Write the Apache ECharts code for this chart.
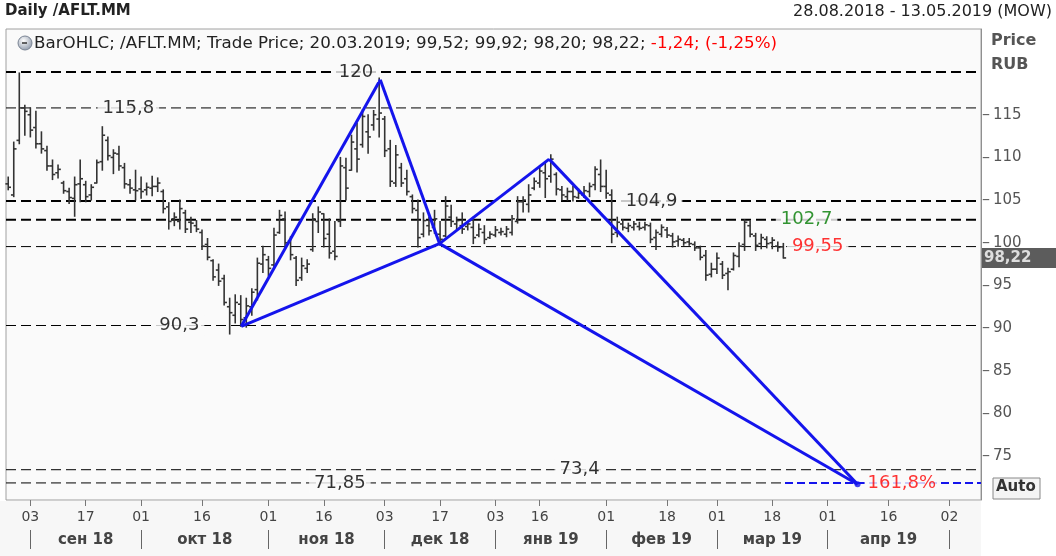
<!DOCTYPE html>
<html>
<head>
<meta charset="utf-8">
<script src="https://cdn.jsdelivr.net/npm/echarts@6/dist/echarts.min.js"></script>
<style>
  html, body { margin: 0; padding: 0; background: #fff; }
  #chart { width: 1056px; height: 556px; }
</style>
</head>
<body>
<div id="chart"></div>
<script>
// daily bars 28.08.2018 .. 20.03.2019, index = trading day
const opens = [
  106.9, 105.6, 112.0, 115.8, 115.0, 113.5, 111.6, 110.8, 109.0, 108.2,
  107.0, 106.0, 105.2, 106.9, 106.8, 105.6, 107.0, 109.5, 112.0, 110.0,
  110.4, 108.8, 106.8, 106.2, 106.3, 106.2, 106.4, 106.6, 106.0, 104.2,
  102.8, 102.5, 103.5, 102.4, 102.0, 101.2, 99.8, 97.9, 96.8, 95.8,
  92.5, 91.5, 92.8, 91.2, 92.5, 94.5, 97.5, 98.0, 97.4, 101.2,
  102.8, 100.2, 98.2, 95.9, 97.0, 99.2, 102.5, 103.4, 101.0, 99.0,
  102.5, 108.8, 108.5, 111.0, 111.5, 113.0, 113.8, 114.5, 114.5, 111.0,
  107.0, 108.8, 107.5, 105.4, 103.8, 101.0, 102.0, 101.8, 101.0, 100.8,
  103.0, 102.2, 102.0, 101.9, 101.8, 100.9, 101.2, 100.6, 100.9, 101.2,
  101.0, 101.2, 102.5, 104.8, 104.5, 106.4, 107.0, 108.2, 107.8, 108.0,
  106.2, 105.4, 106.0, 105.3, 105.6, 106.0, 106.8, 108.0, 106.6, 105.6,
  101.2, 102.2, 101.7, 101.8, 101.9, 101.8, 102.0, 100.6, 101.0, 101.5,
  100.8, 100.2, 100.3, 100.1, 99.8, 99.4, 98.5, 96.3, 96.9, 97.5,
  96.4, 96.9, 98.4, 99.8, 102.0, 100.8, 99.9, 100.4, 100.0, 99.6,
  99.52
];
const highs = [
  107.7, 111.8, 119.9, 116.1, 115.8, 115.4, 113.0, 111.3, 109.7, 109.1,
  107.2, 106.4, 107.7, 109.7, 107.2, 106.8, 109.7, 113.6, 112.4, 110.9,
  111.3, 109.3, 107.4, 108.5, 107.7, 107.0, 107.8, 107.6, 106.2, 104.7,
  103.5, 105.0, 103.8, 103.0, 102.6, 101.5, 100.5, 98.0, 97.5, 96.2,
  93.5, 93.9, 93.8, 93.5, 94.6, 98.2, 99.6, 98.4, 101.7, 103.8,
  103.6, 100.7, 98.4, 98.2, 98.0, 103.4, 104.2, 103.4, 102.8, 102.5,
  110.0, 109.9, 112.6, 114.0, 115.6, 115.0, 115.5, 119.3, 114.8, 112.0,
  111.4, 109.3, 108.5, 105.6, 105.0, 103.5, 103.0, 103.8, 102.5, 105.4,
  104.4, 103.0, 103.5, 102.5, 103.0, 102.2, 102.0, 101.3, 101.9, 101.7,
  101.9, 103.2, 105.4, 105.4, 106.8, 107.6, 108.9, 109.3, 110.3, 108.2,
  106.6, 106.4, 106.6, 106.3, 106.6, 107.0, 108.9, 109.7, 108.5, 106.2,
  103.0, 102.7, 102.3, 102.5, 102.4, 102.4, 102.3, 101.5, 102.1, 101.8,
  101.1, 100.8, 100.5, 100.5, 100.1, 99.6, 99.1, 97.6, 98.8, 97.8,
  97.0, 98.8, 100.0, 102.7, 102.5, 101.1, 101.0, 100.7, 100.6, 100.1,
  99.92
];
const lows = [
  106.2, 105.4, 111.6, 112.6, 112.4, 111.1, 110.5, 108.5, 107.4, 107.6,
  105.8, 104.6, 103.1, 104.8, 104.8, 105.0, 107.0, 108.5, 109.7, 108.1,
  108.5, 106.4, 105.8, 105.0, 105.2, 105.6, 105.5, 106.0, 103.5, 101.6,
  102.0, 101.6, 101.2, 101.2, 101.3, 99.2, 98.0, 95.6, 95.0, 92.7,
  89.3, 90.6, 90.2, 90.1, 91.5, 93.3, 96.5, 96.1, 97.2, 101.1,
  99.2, 98.0, 95.0, 95.6, 96.5, 99.0, 101.2, 99.5, 98.2, 98.0,
  101.9, 105.0, 108.5, 108.3, 111.2, 110.5, 113.2, 112.4, 110.1, 106.6,
  106.6, 106.6, 105.6, 103.5, 99.5, 100.7, 100.9, 101.1, 99.7, 100.7,
  101.9, 101.5, 101.1, 101.5, 99.9, 100.7, 99.9, 100.5, 100.7, 100.9,
  100.7, 100.9, 102.3, 103.6, 103.6, 106.2, 106.5, 105.3, 107.1, 105.6,
  105.0, 105.0, 104.9, 105.2, 105.3, 105.4, 106.2, 106.0, 105.2, 100.0,
  100.7, 101.5, 101.3, 101.5, 101.5, 101.5, 100.0, 99.2, 100.7, 100.6,
  99.5, 99.6, 99.7, 99.7, 99.1, 98.0, 95.6, 96.0, 96.4, 95.8,
  94.5, 96.8, 97.2, 99.1, 100.7, 99.1, 99.3, 99.4, 99.3, 99.0,
  98.20
];
const closes = [
  106.5, 111.0, 115.8, 115.4, 113.2, 111.6, 111.0, 109.0, 108.0, 108.6,
  106.1, 105.3, 106.8, 107.5, 105.4, 106.5, 109.4, 112.6, 110.2, 110.5,
  109.0, 106.9, 106.4, 106.1, 106.0, 106.5, 106.6, 107.0, 104.0, 102.5,
  103.0, 104.0, 101.6, 102.3, 101.6, 99.6, 98.3, 96.0, 95.5, 93.0,
  91.8, 93.0, 91.0, 92.6, 94.2, 97.6, 98.6, 97.0, 100.9, 103.2,
  100.0, 98.6, 95.6, 97.3, 97.5, 102.8, 103.6, 100.5, 98.8, 98.4,
  109.0, 106.4, 111.8, 109.8, 114.8, 112.4, 115.0, 115.2, 110.8, 107.2,
  110.3, 107.0, 106.0, 104.0, 100.6, 102.6, 101.4, 102.8, 100.4, 104.3,
  102.5, 102.6, 101.6, 102.2, 100.6, 101.6, 100.4, 101.0, 101.5, 101.3,
  101.6, 102.8, 104.8, 105.0, 105.6, 107.2, 108.4, 107.5, 109.8, 106.3,
  105.6, 106.0, 105.4, 105.8, 106.1, 106.6, 108.6, 106.6, 105.8, 101.0,
  102.4, 101.8, 102.0, 102.2, 101.7, 102.1, 100.4, 101.2, 101.8, 100.9,
  100.1, 100.4, 100.0, 99.9, 99.4, 98.3, 96.2, 96.9, 98.2, 96.2,
  96.6, 98.5, 99.6, 102.4, 101.0, 99.7, 100.6, 99.9, 100.3, 99.46,
  98.22
];

// x axis: trading-day index, up to 13.05.2019
const dayTickIdx = [4, 14, 24, 35, 47, 57, 68, 78, 88, 96, 108, 119, 128, 138, 148, 159, 170];
const dayTickLabels = ['03', '17', '01', '16', '01', '16', '03', '17', '03', '16', '01', '18', '01', '18', '01', '16', '02'];
const monthEdgeIdx = [4, 24, 47, 68, 88, 108, 128, 148, 170];
const monthMidIdx = [14, 35.5, 57.5, 78, 98, 118, 138, 159];
const monthLabels = ['сен 18', 'окт 18', 'ноя 18', 'дек 18', 'янв 19', 'фев 19', 'мар 19', 'апр 19'];
const priceTicks = [75, 80, 85, 90, 95, 100, 105, 110, 115];

// horizontal levels
const levelValues = [120, 115.8, 104.9, 102.7, 99.55, 90.3, 73.4, 71.85];
const levelLabels = ['120', '115,8', '104,9', '102,7', '99,55', '90,3', '73,4', '71,85'];

// XABCD pattern points (index, price)
const patternIdx = [42.1, 67.2, 77.9, 97.7, 153.4];
const patternValues = [90.2, 119.1, 99.9, 109.8, 71.7];
const fibValue = 71.85;
const fibLabel = '161,8%';
const lastPrice = 98.22;

const X_MIN = -0.4, X_MAX = 175.7;
const FONT = "'DejaVu Sans', Verdana, sans-serif";
const PLOT_BG = '#fafafa';
const BLUE = '#1414ec';

// label spot, colour, line width, dash end for each level
const levelStyle = [
  { at: 62.8, color: '#000', width: 2, end: X_MAX },
  { at: 21.7, color: '#000', width: 1, end: X_MAX },
  { at: 116.2, color: '#000', width: 2, end: X_MAX },
  { at: 144.2, color: '#007a00', width: 2, end: X_MAX },
  { at: 146.2, color: '#ff0000', width: 1, end: X_MAX },
  { at: 30.9, color: '#000', width: 1, end: X_MAX },
  { at: 103.2, color: '#000', width: 1, end: X_MAX },
  { at: 59.9, color: '#000', width: 1, end: 140.3 }
];

const segPairs = [[0, 1], [1, 2], [2, 3], [3, 4], [0, 2], [2, 4]];

const chart = echarts.init(document.getElementById('chart'));

const levelSeries = levelValues.map((v, i) => ({
  type: 'line',
  data: [[X_MIN, v], [levelStyle[i].end, v]],
  symbol: 'none',
  silent: true,
  z: 1,
  lineStyle: { color: '#000', width: levelStyle[i].width, type: [10, 5] }
}));

const levelLabelData = levelValues.map((v, i) => ({
  value: [levelStyle[i].at, v],
  label: { formatter: levelLabels[i], color: levelStyle[i].color }
}));

const barData = closes.map((c, i) => [i, opens[i], highs[i], lows[i], c]);

chart.setOption({
  backgroundColor: '#fff',
  animation: false,
  grid: {
    left: 6, right: 75, top: 29, bottom: 56,
    show: true, backgroundColor: PLOT_BG, borderColor: '#a0a0a0', borderWidth: 1
  },
  xAxis: [
    {
      type: 'value', min: X_MIN, max: X_MAX, position: 'bottom',
      axisLine: { show: false, onZero: false },
      splitLine: { show: false },
      axisTick: { show: true, customValues: dayTickIdx, length: 6, lineStyle: { color: '#777' } },
      axisLabel: {
        customValues: dayTickIdx,
        formatter: (v) => dayTickLabels[dayTickIdx.indexOf(v)],
        margin: 10, color: '#444', fontSize: 14, fontFamily: FONT
      }
    },
    {
      type: 'value', min: X_MIN, max: X_MAX, position: 'bottom', offset: 30,
      axisLine: { show: false, onZero: false },
      splitLine: { show: false },
      axisTick: { show: true, customValues: monthEdgeIdx, length: 19, lineStyle: { color: '#666' } },
      axisLabel: {
        customValues: monthMidIdx,
        formatter: (v) => monthLabels[monthMidIdx.indexOf(v)],
        margin: 3, color: '#444', fontSize: 15, fontWeight: 'bold', fontFamily: FONT
      }
    }
  ],
  yAxis: {
    type: 'value', position: 'right', min: 69.85, max: 125.05,
    axisLine: { show: true, onZero: false, lineStyle: { color: '#909090' } },
    splitLine: { show: false },
    axisTick: { show: false },
    axisLabel: {
      customValues: priceTicks,
      margin: 1,
      // a dash before each price stands in for the tick mark
      formatter: (v) => '{t|\u2013}{n|' + v + '}',
      rich: {
        t: { color: '#666', fontSize: 16, fontFamily: FONT },
        n: { color: '#555', fontSize: 15, fontFamily: FONT, padding: [0, 0, 0, 3] }
      }
    }
  },
  series: [
    ...levelSeries,
    {
      type: 'custom',
      data: barData,
      encode: { x: 0, y: [1, 2, 3, 4] },
      z: 3,
      renderItem: (params, api) => {
        const x = api.value(0);
        const o = api.coord([x, api.value(1)]);
        const h = api.coord([x, api.value(2)]);
        const l = api.coord([x, api.value(3)]);
        const c = api.coord([x, api.value(4)]);
        const st = { stroke: '#333', lineWidth: 1.6 };
        return {
          type: 'group',
          children: [
            { type: 'line', shape: { x1: h[0], y1: h[1] - 0.5, x2: l[0], y2: l[1] + 0.5 }, style: st },
            { type: 'line', shape: { x1: o[0] - 2.8, y1: o[1], x2: o[0], y2: o[1] }, style: st },
            { type: 'line', shape: { x1: c[0], y1: c[1], x2: c[0] + 2.8, y2: c[1] }, style: st }
          ]
        };
      }
    },
    {
      type: 'lines',
      coordinateSystem: 'cartesian2d',
      polyline: false,
      z: 5,
      silent: true,
      lineStyle: { color: BLUE, width: 3, opacity: 1 },
      data: segPairs.map(([a, b]) => ({
        coords: [[patternIdx[a], patternValues[a]], [patternIdx[b], patternValues[b]]]
      }))
    },
    {
      type: 'line',
      data: [[140.3, fibValue], [X_MAX, fibValue]],
      symbol: 'none',
      z: 5,
      lineStyle: { color: BLUE, width: 2, type: [8, 4] }
    },
    {
      type: 'scatter',
      data: [[patternIdx[4], patternValues[4]]],
      symbol: 'circle', symbolSize: 6, z: 6,
      itemStyle: { color: BLUE }
    },
    {
      type: 'scatter',
      data: levelLabelData,
      symbolSize: 0, z: 7, silent: true,
      label: {
        show: true, position: 'inside',
        fontSize: 18, fontFamily: FONT,
        backgroundColor: PLOT_BG, padding: [1, 5]
      }
    },
    {
      type: 'scatter',
      data: [[161.4, fibValue]],
      symbolSize: 0, z: 7, silent: true,
      label: {
        show: true, position: 'inside', formatter: fibLabel,
        color: '#ff0000', fontSize: 18, fontFamily: FONT,
        backgroundColor: PLOT_BG, padding: [0, 3]
      }
    },
    {
      type: 'scatter',
      data: [[X_MAX, lastPrice]],
      symbolSize: 0, z: 8, silent: true, clip: false,
      label: {
        show: true, position: 'right', distance: 1,
        formatter: String(lastPrice).replace('.', ','),
        color: '#fff', fontWeight: 'bold', fontSize: 15, fontFamily: FONT,
        backgroundColor: '#333', padding: [3, 30, 2, 2]
      }
    }
  ],
  graphic: [
    { type: 'rect', shape: { x: 0, y: 501, width: 981, height: 55 }, style: { fill: '#f7f7f7' }, z: -1 },
    { type: 'text', left: 5, top: 4, style: { text: 'Daily /AFLT.MM', font: 'bold 15px ' + FONT, fill: '#222' } },
    { type: 'text', right: 4, top: 4, style: { text: '28.08.2018 - 13.05.2019 (MOW)', font: '16px ' + FONT, fill: '#222' } },
    {
      type: 'circle', shape: { cx: 25, cy: 43, r: 7 }, z: 10,
      style: {
        fill: new echarts.graphic.RadialGradient(0.4, 0.35, 0.7, [
          { offset: 0, color: '#ffffff' }, { offset: 1, color: '#8a96a8' }
        ]),
        stroke: '#7a8494', lineWidth: 1
      }
    },
    { type: 'line', shape: { x1: 22, y1: 43, x2: 27, y2: 43 }, style: { stroke: '#333', lineWidth: 1.5 }, z: 11 },
    {
      type: 'text', left: 34, top: 35, z: 10,
      style: {
        text: '{a|BarOHLC; /AFLT.MM; Trade Price; 20.03.2019; 99,52; 99,92; 98,20; 98,22; }{r|-1,24; (-1,25%)}',
        font: '16.7px ' + FONT,
        rich: {
          a: { fill: '#222', font: '16.7px ' + FONT },
          r: { fill: '#ff0000', font: '16.7px ' + FONT }
        }
      }
    },
    { type: 'text', left: 991, top: 33, style: { text: 'Price', font: 'bold 16px ' + FONT, fill: '#555' } },
    { type: 'text', left: 991, top: 57, style: { text: 'RUB', font: 'bold 16px ' + FONT, fill: '#555' } },
    { type: 'rect', shape: { x: 993, y: 478, width: 47, height: 21 }, style: { fill: '#f4f4f4', stroke: '#888', lineWidth: 1 } },
    { type: 'text', left: 996, top: 480, style: { text: 'Auto', font: 'bold 15px ' + FONT, fill: '#333' } }
  ]
});
</script>
</body>
</html>
